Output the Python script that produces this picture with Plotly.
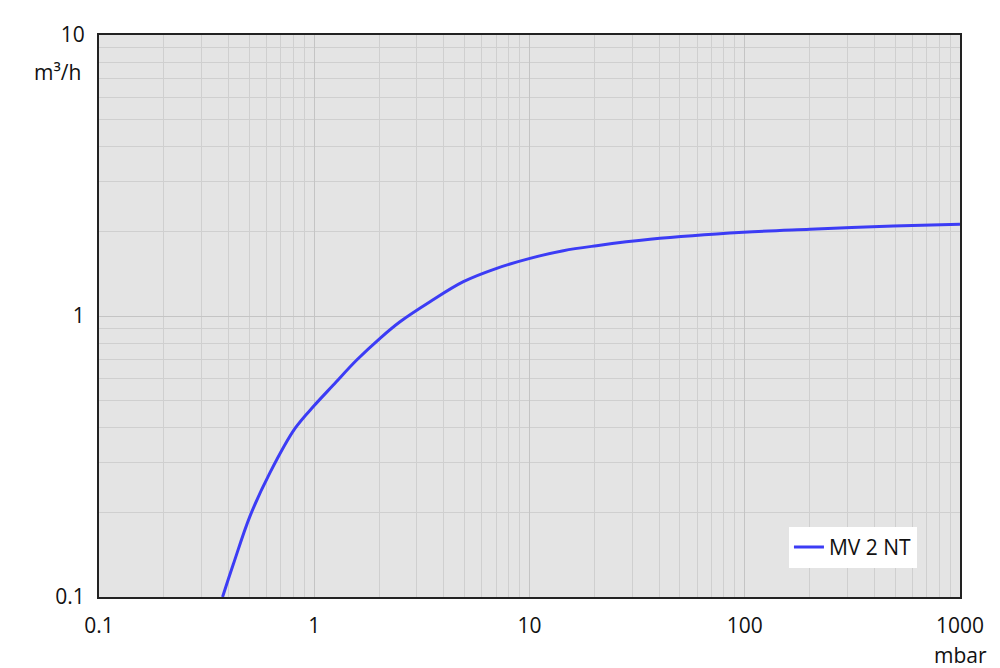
import plotly.graph_objects as go

pressure_mbar = [0.375, 0.421, 0.503, 0.623, 0.814, 1.0, 1.226, 1.575, 2.021, 2.503,
                 3.45, 4.93, 7.04, 10.05, 14.36, 20.5, 36.3, 98.5, 201, 490, 1000]
speed_m3h = [0.1, 0.131, 0.194, 0.277, 0.398, 0.48, 0.568, 0.697, 0.833, 0.954,
             1.124, 1.325, 1.478, 1.604, 1.708, 1.779, 1.875, 1.986, 2.035, 2.09, 2.12]
series_name = "MV 2 NT"
x_tick_vals = [0.1, 1, 10, 100, 1000]
x_tick_text = ["0.1", "1", "10", "100", "1000"]
y_tick_vals = [0.1, 1, 10]
y_tick_text = ["0.1", "1", "10"]

FONT = "Open Sans"
fig = go.Figure()
fig.add_trace(go.Scatter(
    x=pressure_mbar, y=speed_m3h, mode="lines", name=series_name,
    line=dict(color="#3c3cf5", width=3, shape="spline", smoothing=1.0),
))

grid_major = "#c4c4c4"
grid_minor = "#cfcfcf"
fig.update_xaxes(
    type="log", range=[-1, 3], tickvals=x_tick_vals, ticktext=x_tick_text,
    showline=True, linecolor="#222222", linewidth=2, mirror=True,
    showgrid=True, gridcolor=grid_major, gridwidth=1, ticks="",
    minor=dict(showgrid=True, gridcolor=grid_minor, gridwidth=1, dtick="D1", ticks=""),
    tickfont=dict(family=FONT, size=21, color="#111111"), zeroline=False,
    ticklabelstandoff=9,
)
fig.update_yaxes(
    type="log", range=[-1, 1], tickvals=y_tick_vals, ticktext=y_tick_text,
    showline=True, linecolor="#222222", linewidth=2, mirror=True,
    showgrid=True, gridcolor=grid_major, gridwidth=1, ticks="",
    minor=dict(showgrid=True, gridcolor=grid_minor, gridwidth=1, dtick="D1", ticks=""),
    tickfont=dict(family=FONT, size=21, color="#111111"), zeroline=False,
    ticklabelstandoff=8,
)
fig.update_layout(
    width=992, height=660,
    margin=dict(l=91, r=40, t=27, b=71),
    paper_bgcolor="white", plot_bgcolor="#e4e4e4",
    font=dict(family=FONT, size=20, color="#111111"),
    showlegend=True,
    legend=dict(x=0.95, y=0.052, xanchor="right", yanchor="bottom",
                bgcolor="white", borderwidth=0,
                font=dict(family=FONT, size=21, color="#111111")),
    annotations=[
        dict(text="m³/h", xref="paper", yref="paper", x=-0.019, y=0.935,
             xanchor="right", yanchor="middle", showarrow=False,
             font=dict(family=FONT, size=21, color="#111111")),
        dict(text="mbar", xref="paper", yref="paper", x=1.0, y=-0.103,
             xanchor="center", yanchor="middle", showarrow=False,
             font=dict(family=FONT, size=21, color="#111111")),
    ],
)
fig.write_html("out.html")
